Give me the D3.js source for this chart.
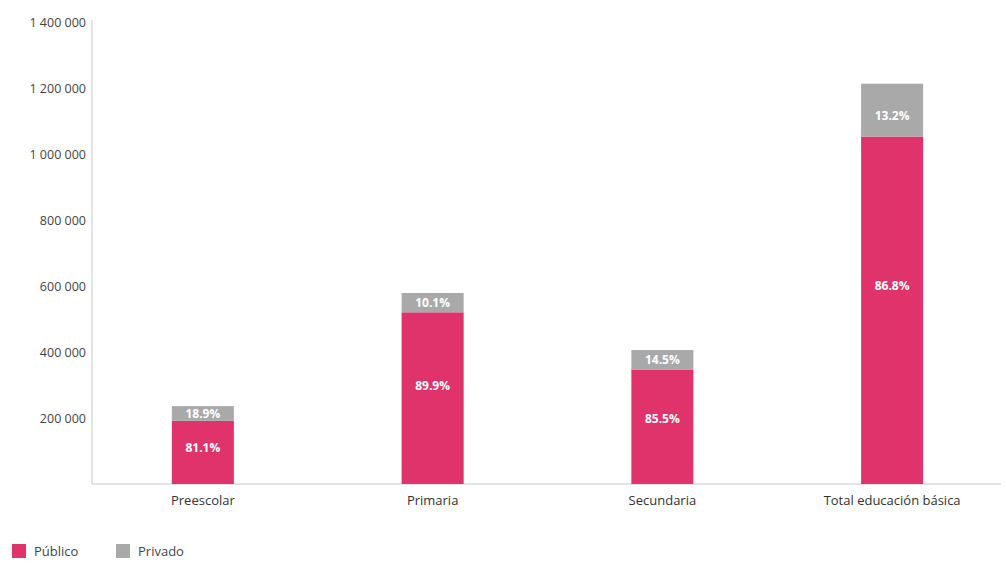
<!DOCTYPE html>
<html>
<head>
<meta charset="utf-8">
<script src="https://cdn.jsdelivr.net/npm/d3@7"></script>
<style>
  body { margin: 0; background: #fff; }
  text { font-family: "Open Sans", "DejaVu Sans", sans-serif; }
</style>
</head>
<body>
<svg id="chart" width="1007" height="564"></svg>
<script>
// data
const categories = ['Preescolar', 'Primaria', 'Secundaria', 'Total educación básica']
const publico = [191400, 520300, 347000, 1053000]
const privado = [44600, 58500, 58900, 160000]
const publicoPct = ['81.1%', '89.9%', '85.5%', '86.8%']
const privadoPct = ['18.9%', '10.1%', '14.5%', '13.2%']
const yTicks = [200000, 400000, 600000, 800000, 1000000, 1200000, 1400000]
const legendLabels = ['Público', 'Privado']

const colors = ['#e0336b', '#a9a9a9']
const width = 1007, height = 564
const margin = { top: 22, right: 0, bottom: 80, left: 88 }

const svg = d3.select('#chart')

const x = d3.scaleBand()
  .domain(categories)
  .range([margin.left, width - margin.right])
  .paddingInner(0.73)
  .paddingOuter(0.365)

const y = d3.scaleLinear()
  .domain([0, 1400000])
  .range([height - margin.bottom, margin.top])

// number format with spaces as thousands separator
const fmt = d => d3.format(',')(d).replace(/,/g, ' ')

// y axis
const yAxis = svg.append('g')
  .attr('transform', `translate(${margin.left + 4},0)`)
  .call(d3.axisLeft(y).tickValues(yTicks).tickFormat(fmt).tickSize(0).tickPadding(6))
yAxis.select('.domain').attr('stroke', '#c8c8c8').attr('d', `M0,${y(0)}V${y(1400000) - 2}`)
yAxis.selectAll('text').attr('fill', '#444').style('font-size', '12.5px')

// x axis
const xAxis = svg.append('g')
  .attr('transform', `translate(0,${y(0)})`)
  .call(d3.axisBottom(x).tickSize(0).tickPadding(12))
xAxis.select('.domain').attr('stroke', '#c8c8c8')
  .attr('d', `M${margin.left + 4},0H${width - 6}`)
xAxis.selectAll('text').attr('fill', '#333').style('font-size', '13px')

// stacked bars
const rows = categories.map((c, i) => ({ cat: c, pub: publico[i], priv: privado[i] }))
const series = d3.stack().keys(['pub', 'priv'])(rows)

const groups = svg.append('g').selectAll('g')
  .data(series)
  .join('g')
  .attr('fill', (d, i) => colors[i])

groups.selectAll('rect')
  .data(d => d)
  .join('rect')
  .attr('x', d => x(d.data.cat))
  .attr('width', x.bandwidth())
  .attr('y', d => y(d[1]))
  .attr('height', d => y(d[0]) - y(d[1]))

// percentage labels
const pcts = [publicoPct, privadoPct]
groups.selectAll('text')
  .data((d, k) => d.map((s, i) => ({ s, label: pcts[k][i], k })))
  .join('text')
  .attr('x', d => x(d.s.data.cat) + x.bandwidth() / 2)
  .attr('y', d => {
    const mid = (y(d.s[0]) + y(d.s[1])) / 2
    const h = y(d.s[0]) - y(d.s[1])
    return d.k === 0 ? mid - h * 0.07 : mid + (h > 30 ? h * 0.1 : 0)
  })
  .attr('dy', '0.35em')
  .attr('text-anchor', 'middle')
  .attr('fill', '#fff')
  .style('font-size', '12px')
  .style('font-weight', 'bold')
  .text(d => d.label)

// legend
const legend = svg.append('g').attr('transform', `translate(12,${height - 13})`)
const items = legend.selectAll('g')
  .data(legendLabels)
  .join('g')
  .attr('transform', (d, i) => `translate(${i * 104},0)`)
items.append('rect')
  .attr('width', 14).attr('height', 14).attr('y', -7)
  .attr('fill', (d, i) => colors[i])
items.append('text')
  .attr('x', 22).attr('dy', '0.35em')
  .attr('fill', '#444')
  .style('font-size', '13px')
  .text(d => d)
</script>
</body>
</html>
